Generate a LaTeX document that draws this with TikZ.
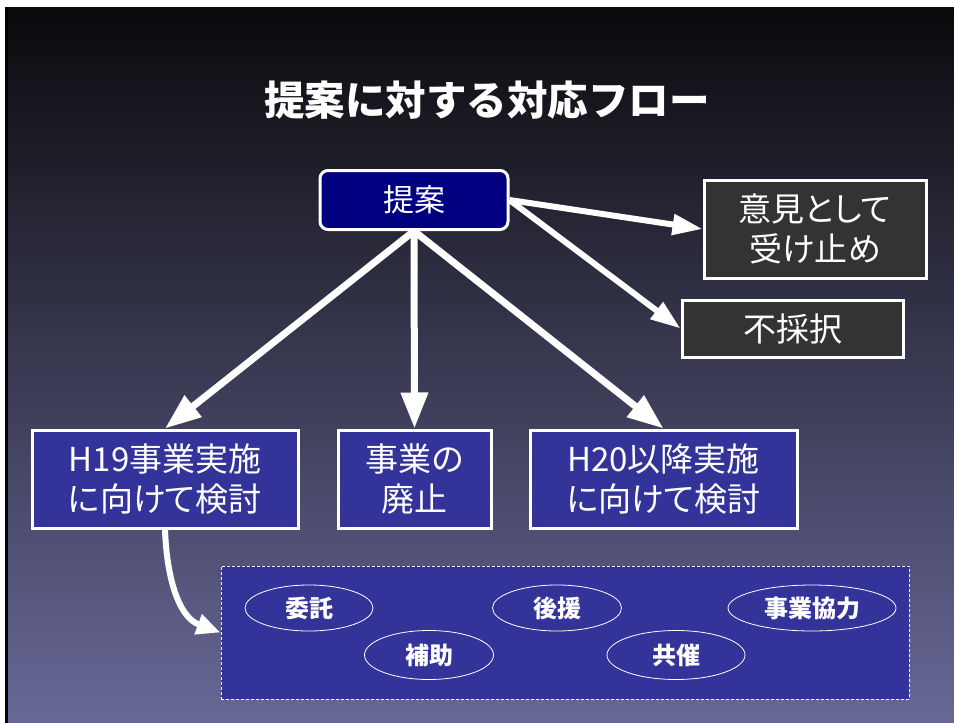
\documentclass[tikz,border=0pt]{standalone}
\usepackage{fontspec}
\setmainfont{Noto Sans CJK JP}
\newfontfamily\propfont[RawFeature=+palt]{Noto Sans CJK JP}
\usetikzlibrary{arrows.meta,shapes.geometric}
\definecolor{navyc}{RGB}{0,0,128}
\definecolor{bluebox}{RGB}{51,51,153}
\definecolor{graybox}{RGB}{51,51,51}
\definecolor{bgtop}{RGB}{10,10,12}
\definecolor{bgmid}{RGB}{72,72,105}
\definecolor{bgbot}{RGB}{104,104,152}
\tikzset{
  boxbase/.style={draw=white, line width=3pt, text=white, align=center, inner sep=0pt,
    font=\propfont\fontsize{33}{40}\selectfont},
  bluenode/.style={boxbase, fill=bluebox, minimum height=98pt},
  graynode/.style={boxbase, fill=graybox},
  ellnode/.style={ellipse, draw=white, line width=0.8pt, text=white, inner sep=0pt,
    font=\bfseries\fontsize{24}{28}\selectfont},
  bigarrow/.style={draw=white, line width=7pt, -{Triangle[length=36pt,width=26pt]}},
  smallarrow/.style={draw=white, line width=6pt, -{Triangle[length=30pt,width=20pt]}},
  curvearrow/.style={draw=white, line width=6pt, -{Triangle[length=24pt,width=20pt]}},
}
\begin{document}
\begin{tikzpicture}[x=1pt,y=-1pt]
\useasboundingbox (0,0) rectangle (954,723);
\fill[white] (0,0) rectangle (954,723);
\fill[black] (5,7) rectangle (8,723);
\shade[top color=bgtop, middle color=bgmid, bottom color=bgbot] (8,7) rectangle (954,723);

\node[text=white, font=\bfseries\fontsize{40.5}{46}\selectfont] (title) at (487,100) {提案に対する対応フロー};

\node[boxbase, fill=navyc, rounded corners=8pt, minimum width=188pt, minimum height=59pt,
  font=\propfont\fontsize{31}{40}\selectfont] (teian) at (414,200) {提案};

\node[graynode, minimum width=222pt, minimum height=98pt] (iken) at (815,229) {意見として\\受け止め};
\node[graynode, minimum width=221pt, minimum height=57pt] (fusai) at (792.5,328.5) {不採択};

\node[bluenode, minimum width=266pt] (h19) at (165,479) {H19事業実施\\に向けて検討};
\node[bluenode, minimum width=153pt] (haishi) at (414.5,479) {事業の\\廃止};
\node[bluenode, minimum width=267pt] (h20) at (663.5,479) {H20以降実施\\に向けて検討};

\node[draw=white, line width=0.8pt, dash pattern=on 3pt off 2pt, fill=bluebox,
  minimum width=688pt, minimum height=133pt, inner sep=0pt] (group) at (565,632.5) {};

\node[ellnode, minimum width=128pt, minimum height=46pt] (itaku) at (309,608) {委託};
\node[ellnode, minimum width=129pt, minimum height=46pt] (koen) at (557,608) {後援};
\node[ellnode, minimum width=168pt, minimum height=46pt] (kyoryoku) at (812,608) {事業協力};
\node[ellnode, minimum width=129pt, minimum height=49pt] (hojo) at (429,655) {補助};
\node[ellnode, minimum width=138pt, minimum height=49pt] (kyosai) at (676,655) {共催};

\draw[bigarrow] (teian.south) -- (h19.north);
\draw[bigarrow] (teian.south) -- (haishi.north);
\draw[bigarrow] (teian.south) -- (h20.north);
\draw[smallarrow] (teian.east) -- (iken.west);
\draw[smallarrow] (teian.east) -- (fusai.west);
\draw[curvearrow] (h19.south) to[out=-88, in=160] (group.west);
\end{tikzpicture}
\end{document}
